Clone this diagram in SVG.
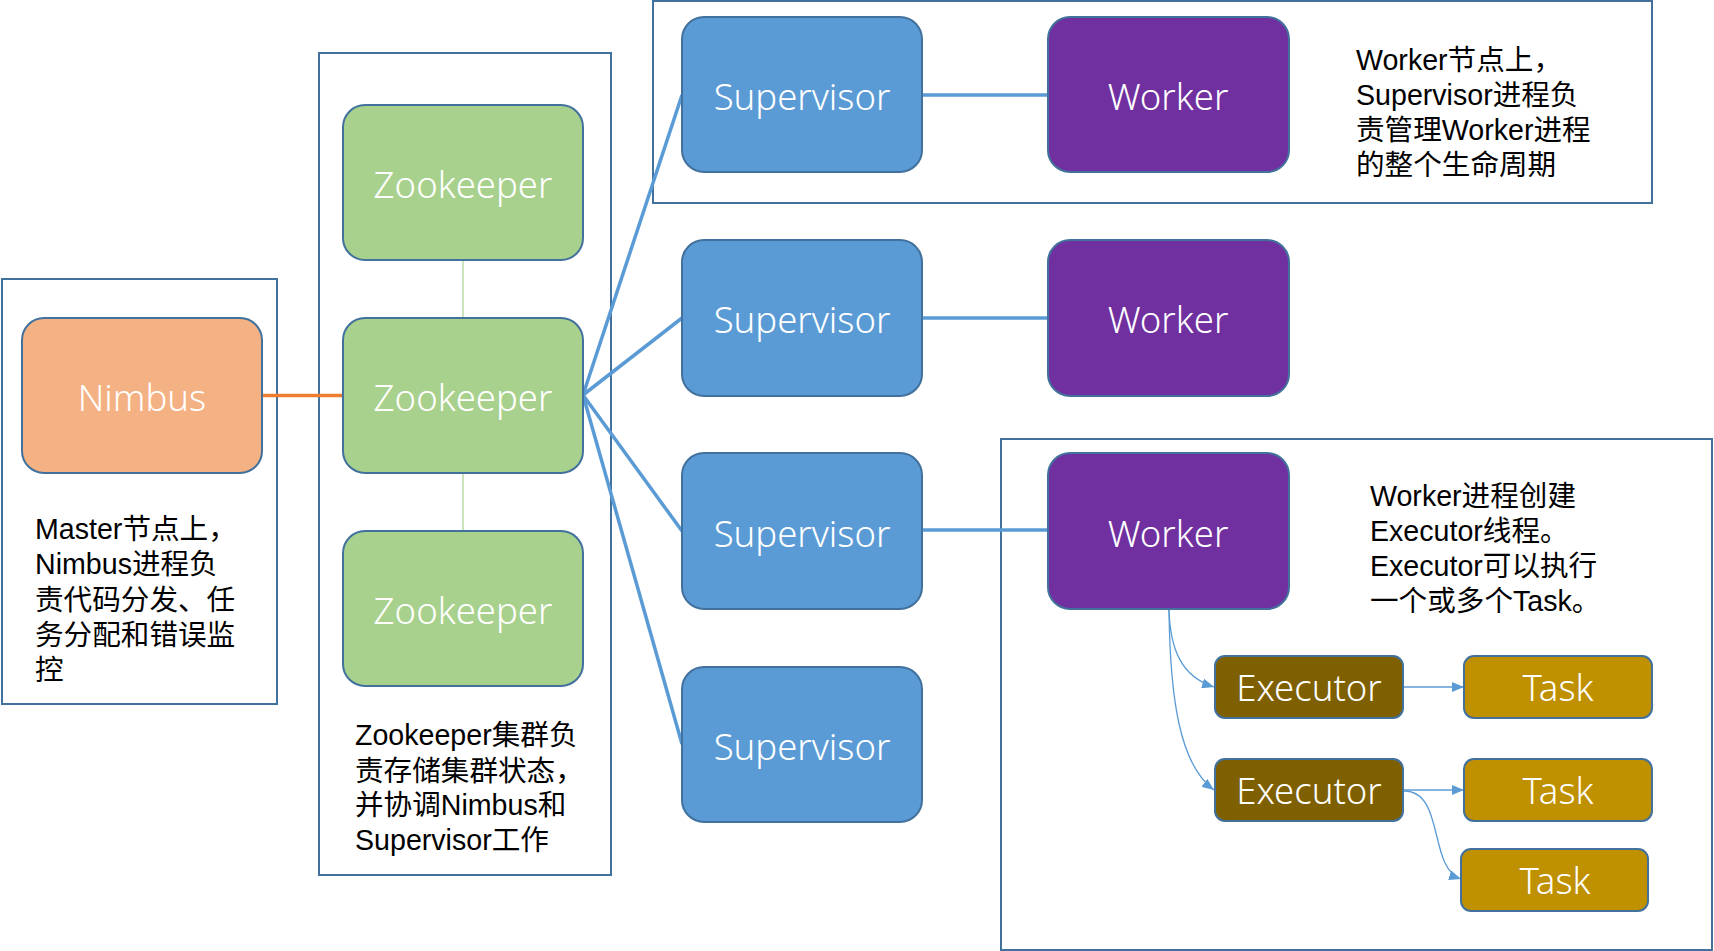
<svg xmlns="http://www.w3.org/2000/svg" width="1714" height="951" viewBox="0 0 1714 951">
<defs>
<style>
.frame{fill:none;stroke:#41719C;stroke-width:2}
.box{stroke:#41719C;stroke-width:2}
.zk{fill:#A9D18E}
.nim{fill:#F4B183}
.sup{fill:#5B9BD5}
.wrk{fill:#7030A0}
.exe{fill:#7F6000}
.tsk{fill:#BF9000}
.lbl{font-family:"Noto Sans","Open Sans","DejaVu Sans",sans-serif;font-weight:300;font-size:36.5px;fill:#FFFFFF;text-anchor:middle}
.note{font-family:"Liberation Sans","Noto Sans CJK SC",sans-serif;font-size:28.6px;fill:#000000}
.thick{fill:none;stroke:#5B9BD5;stroke-width:3.5}
.thin{fill:none;stroke:#5B9BD5;stroke-width:1.3}
</style>
<marker id="arr" viewBox="0 0 12 10" refX="12" refY="5" markerWidth="12" markerHeight="10" markerUnits="userSpaceOnUse" orient="auto">
<path d="M0,0 L12,5 L0,10 Z" fill="#5B9BD5"/>
</marker>
</defs>
<rect width="1714" height="951" fill="#FFFFFF"/>

<g id="frames">
<rect class="frame" x="2" y="279" width="275" height="425"/>
<rect class="frame" x="319" y="53" width="292" height="822"/>
<rect class="frame" x="653" y="1" width="999" height="202"/>
<rect class="frame" x="1001" y="439" width="711" height="511"/>
</g>

<g id="connectors">
<line x1="262" y1="395.5" x2="343" y2="395.5" stroke="#ED7D31" stroke-width="3.5"/>
<line x1="463" y1="260" x2="463" y2="318" stroke="#A9D18E" stroke-width="1.2"/>
<line x1="463" y1="473" x2="463" y2="531" stroke="#A9D18E" stroke-width="1.2"/>
<line class="thick" x1="583" y1="395" x2="682" y2="95"/>
<line class="thick" x1="583" y1="395" x2="682" y2="318"/>
<line class="thick" x1="583" y1="395" x2="682" y2="531"/>
<line class="thick" x1="583" y1="395" x2="682" y2="744"/>
<line class="thick" x1="922" y1="95" x2="1048" y2="95"/>
<line class="thick" x1="922" y1="318" x2="1048" y2="318"/>
<line class="thick" x1="922" y1="530" x2="1048" y2="530"/>
<path class="thin" d="M1169,609 C1170,650 1182,677 1214,687" marker-end="url(#arr)"/>
<path class="thin" d="M1169,609 C1170,700 1180,765 1214,790" marker-end="url(#arr)"/>
<path class="thin" d="M1403,687 L1464,687" marker-end="url(#arr)"/>
<path class="thin" d="M1403,790 L1464,790" marker-end="url(#arr)"/>
<path class="thin" d="M1404,791 C1445,791 1428,868 1461,879" marker-end="url(#arr)"/>
</g>

<g id="nimbus"><rect class="box nim" x="22" y="318" width="240" height="155" rx="22"/><text class="lbl" x="142" y="411">Nimbus</text></g>
<g id="zookeeper1"><rect class="box zk" x="343" y="105" width="240" height="155" rx="22"/><text class="lbl" x="463" y="198">Zookeeper</text></g>
<g id="zookeeper2"><rect class="box zk" x="343" y="318" width="240" height="155" rx="22"/><text class="lbl" x="463" y="411">Zookeeper</text></g>
<g id="zookeeper3"><rect class="box zk" x="343" y="531" width="240" height="155" rx="22"/><text class="lbl" x="463" y="624">Zookeeper</text></g>

<g id="supervisor1"><rect class="box sup" x="682" y="17" width="240" height="155" rx="22"/><text class="lbl" x="802" y="110">Supervisor</text></g>
<g id="supervisor2"><rect class="box sup" x="682" y="240" width="240" height="156" rx="22"/><text class="lbl" x="802" y="333">Supervisor</text></g>
<g id="supervisor3"><rect class="box sup" x="682" y="453" width="240" height="156" rx="22"/><text class="lbl" x="802" y="547">Supervisor</text></g>
<g id="supervisor4"><rect class="box sup" x="682" y="667" width="240" height="155" rx="22"/><text class="lbl" x="802" y="760">Supervisor</text></g>

<g id="worker1"><rect class="box wrk" x="1048" y="17" width="241" height="155" rx="22"/><text class="lbl" x="1168" y="110">Worker</text></g>
<g id="worker2"><rect class="box wrk" x="1048" y="240" width="241" height="156" rx="22"/><text class="lbl" x="1168" y="333">Worker</text></g>
<g id="worker3"><rect class="box wrk" x="1048" y="453" width="241" height="156" rx="22"/><text class="lbl" x="1168" y="547">Worker</text></g>

<g id="executor1"><rect class="box exe" x="1215" y="656" width="188" height="62" rx="10"/><text class="lbl" x="1309" y="701">Executor</text></g>
<g id="executor2"><rect class="box exe" x="1215" y="759" width="188" height="62" rx="10"/><text class="lbl" x="1309" y="804">Executor</text></g>
<g id="task1"><rect class="box tsk" x="1464" y="656" width="188" height="62" rx="10"/><text class="lbl" x="1558" y="701">Task</text></g>
<g id="task2"><rect class="box tsk" x="1464" y="759" width="188" height="62" rx="10"/><text class="lbl" x="1558" y="804">Task</text></g>
<g id="task3"><rect class="box tsk" x="1461" y="849" width="187" height="62" rx="10"/><text class="lbl" x="1555" y="894">Task</text></g>

<g id="notes">
<text class="note" x="35"><tspan x="35" y="539">Master节点上，</tspan><tspan x="35" y="574">Nimbus进程负</tspan><tspan x="35" y="610">责代码分发、任</tspan><tspan x="35" y="645">务分配和错误监</tspan><tspan x="35" y="680">控</tspan></text>
<text class="note" x="355"><tspan x="355" y="745">Zookeeper集群负</tspan><tspan x="355" y="781">责存储集群状态，</tspan><tspan x="355" y="815">并协调Nimbus和</tspan><tspan x="355" y="850">Supervisor工作</tspan></text>
<text class="note" x="1356"><tspan x="1356" y="70">Worker节点上，</tspan><tspan x="1356" y="105">Supervisor进程负</tspan><tspan x="1356" y="140">责管理Worker进程</tspan><tspan x="1356" y="175">的整个生命周期</tspan></text>
<text class="note" x="1370"><tspan x="1370" y="506">Worker进程创建</tspan><tspan x="1370" y="541">Executor线程。</tspan><tspan x="1370" y="576">Executor可以执行</tspan><tspan x="1370" y="611">一个或多个Task。</tspan></text>
</g>
</svg>
